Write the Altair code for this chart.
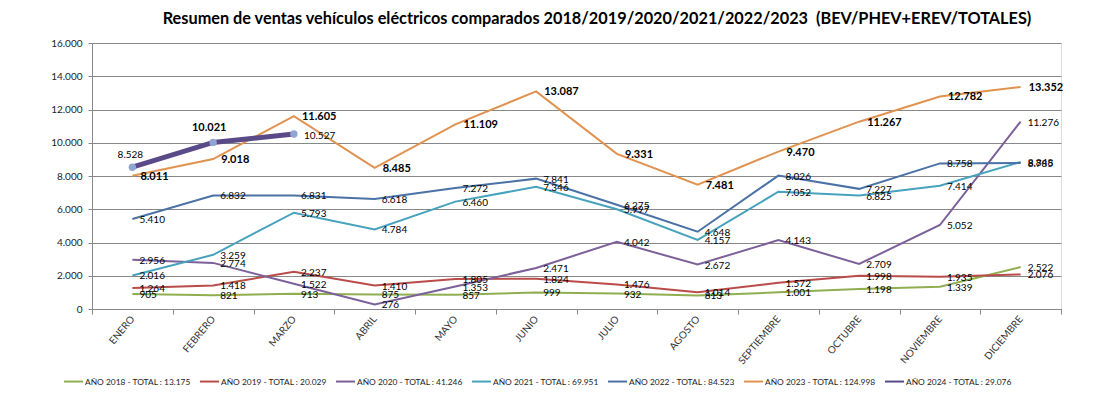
import altair as alt
import pandas as pd

months = ["ENERO", "FEBRERO", "MARZO", "ABRIL", "MAYO", "JUNIO", "JULIO",
          "AGOSTO", "SEPTIEMBRE", "OCTUBRE", "NOVIEMBRE", "DICIEMBRE"]
years = ["2018", "2019", "2020", "2021", "2022", "2023", "2024"]
v2018 = [905, 821, 913, 875, 857, 999, 932, 813, 1001, 1198, 1339, 2522]
v2019 = [1264, 1418, 2237, 1410, 1805, 1824, 1476, 1014, 1572, 1998, 1935, 2076]
v2020 = [2956, 2774, 1522, 276, 1353, 2471, 4042, 2672, 4143, 2709, 5052, 11276]
v2021 = [2016, 3259, 5793, 4784, 6460, 7346, 5997, 4157, 7052, 6825, 7414, 8848]
v2022 = [5410, 6832, 6831, 6618, 7272, 7841, 6275, 4648, 8026, 7227, 8758, 8785]
v2023 = [8011, 9018, 11605, 8485, 11109, 13087, 9331, 7481, 9470, 11267, 12782, 13352]
v2024 = [8528, 10021, 10527]
series_values = [v2018, v2019, v2020, v2021, v2022, v2023, v2024]
colors = ["#8FAE50", "#B94B49", "#7B6099", "#46A2BD", "#4A72A6", "#E0924F", "#5B4A88"]
title_text = "Resumen de ventas vehículos eléctricos comparados 2018/2019/2020/2021/2022/2023\u00a0 (BEV/PHEV+EREV/TOTALES)"


def fmt(n):
    return f"{n:,}".replace(",", ".")


names = [f"AÑO {y} - TOTAL : {fmt(sum(v))}" for y, v in zip(years, series_values)]

rows = []
for y, name, vals in zip(years, names, series_values):
    for m, v in zip(months, vals):
        rows.append({"year": y, "serie": name, "mes": m, "valor": v, "etiqueta": fmt(v)})
df = pd.DataFrame(rows)

FONT = "Lato"
GRID = "#888888"

x_enc = alt.X("mes:N", sort=months, bandPosition=0.5,
              scale=alt.Scale(type="band", domain=months, paddingInner=0, paddingOuter=0),
              axis=alt.Axis(title=None, tickBand="extent", tickSize=5, labelAngle=310,
                            labelFontSize=10, labelColor="#333333", labelFont=FONT,
                            domainColor=GRID, tickColor=GRID, labelPadding=3, grid=False))
y_enc = alt.Y("valor:Q", scale=alt.Scale(domain=[0, 16000], nice=False),
              axis=alt.Axis(title=None, values=list(range(0, 16001, 2000)),
                            labelExpr="replace(format(datum.value, ','), ',', '.')",
                            labelFontSize=10, labelFont=FONT, labelColor="#222222",
                            tickSize=4, tickColor=GRID, domainColor=GRID,
                            gridColor=GRID, gridWidth=1, labelPadding=6))
color_enc = alt.Color("serie:N", scale=alt.Scale(domain=names, range=colors),
                      legend=alt.Legend(title=None, orient="none", legendX=-29, legendY=328,
                                        direction="horizontal", symbolType="stroke",
                                        symbolSize=361, symbolStrokeWidth=2,
                                        labelFontSize=8.4, labelFont=FONT, labelColor="#222222",
                                        labelOffset=1, columnPadding=5, padding=0))

base = alt.Chart(df)
old_years = years[:6]

lines = base.mark_line(strokeWidth=2).encode(x=x_enc, y=y_enc, color=color_enc).transform_filter(
    alt.FieldOneOfPredicate(field="year", oneOf=old_years))
line24 = base.mark_line(strokeWidth=5).encode(x=x_enc, y=y_enc, color=color_enc).transform_filter(
    alt.datum.year == "2024")
pts24 = base.mark_point(filled=True, size=55, color="#8FA5D2", opacity=1).encode(
    x=x_enc, y=y_enc).transform_filter(alt.datum.year == "2024")

lab_norm = base.mark_text(align="left", baseline="middle", dx=7, dy=1, fontSize=10,
                          font=FONT, color="black").encode(
    x=x_enc, y=y_enc, text="etiqueta:N").transform_filter(
    alt.FieldOneOfPredicate(field="year", oneOf=years[:5]))
lab_23 = base.mark_text(align="left", baseline="middle", dx=8, dy=1, fontSize=11,
                        fontWeight="bold", font=FONT, color="black").encode(
    x=x_enc, y=y_enc, text="etiqueta:N").transform_filter(alt.datum.year == "2023")
lab_24a = base.mark_text(align="center", baseline="middle", dx=-2, dy=-12, fontSize=10,
                         font=FONT, color="black").encode(
    x=x_enc, y=y_enc, text="etiqueta:N").transform_filter(
    (alt.datum.year == "2024") & (alt.datum.mes == "ENERO"))
lab_24b = base.mark_text(align="center", baseline="middle", dx=-4, dy=-14, fontSize=11,
                         fontWeight="bold", font=FONT, color="black").encode(
    x=x_enc, y=y_enc, text="etiqueta:N").transform_filter(
    (alt.datum.year == "2024") & (alt.datum.mes == "FEBRERO"))
lab_24c = base.mark_text(align="left", baseline="middle", dx=10, dy=2, fontSize=10,
                         font=FONT, color="black").encode(
    x=x_enc, y=y_enc, text="etiqueta:N").transform_filter(
    (alt.datum.year == "2024") & (alt.datum.mes == "MARZO"))

title_mark = alt.Chart(pd.DataFrame({"t": [title_text]})).mark_text(
    align="center", baseline="alphabetic", fontSize=16.3, fontWeight="bold", font=FONT,
    color="black").encode(x=alt.value(505), y=alt.value(-19), text="t:N")

chart = alt.layer(lines, line24, pts24, lab_norm, lab_23, lab_24a, lab_24b, lab_24c,
                  title_mark).properties(
    width=969, height=266,
    padding={"left": 84, "top": 35, "right": 20, "bottom": 80},
    autosize=alt.AutoSizeParams(type="none"),
).configure_view(stroke=None).configure(background="white")

chart.save("out.html", embed_options={"renderer": "svg", "actions": False})
